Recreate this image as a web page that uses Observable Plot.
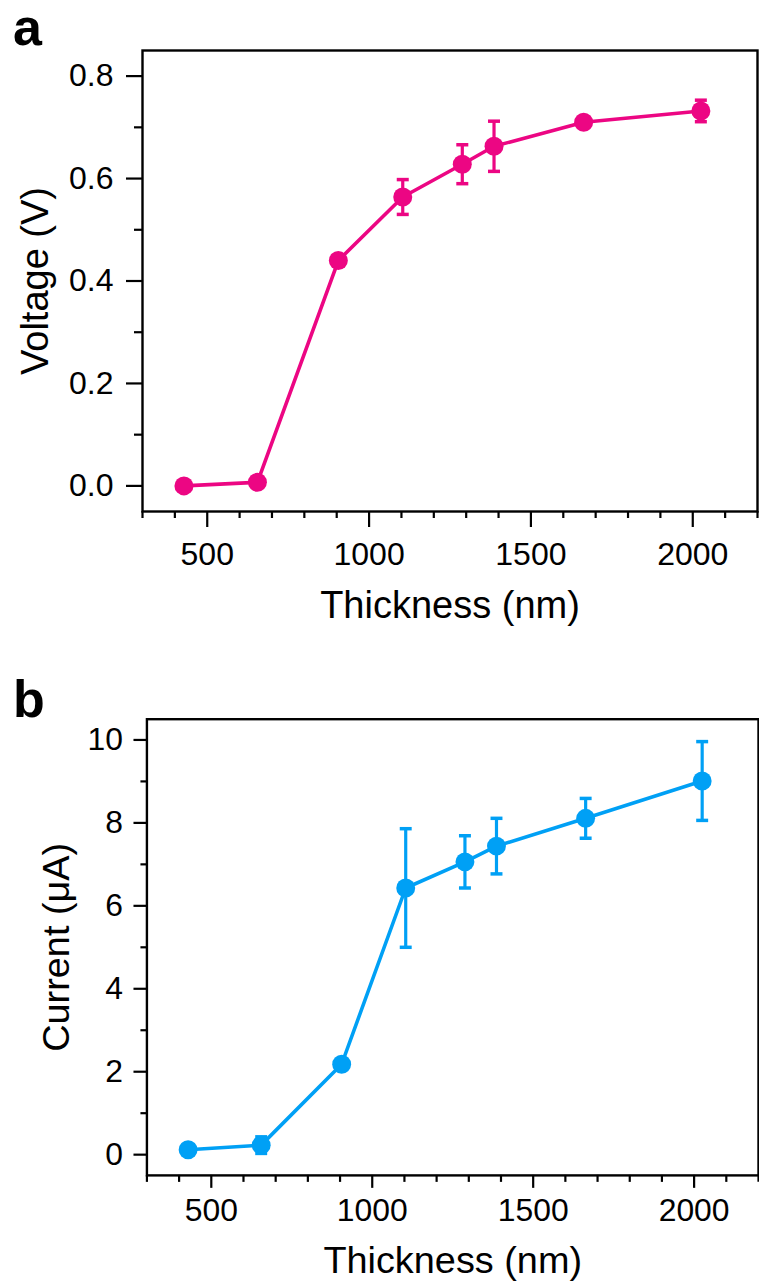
<!DOCTYPE html>
<html>
<head>
<meta charset="utf-8">
<script src="https://cdn.jsdelivr.net/npm/d3@7"></script>
<script src="https://cdn.jsdelivr.net/npm/@observablehq/plot@0.6"></script>
<style>
  html, body { margin: 0; padding: 0; background: #fff; }
  body { width: 759px; height: 1287px; position: relative; overflow: hidden;
         font-family: "Liberation Sans", Arial, sans-serif; }
  .panel { position: absolute; left: 0; z-index: 1; }
  .plabel { position: absolute; left: 13px; font-size: 52px; font-weight: bold; line-height: 1; z-index: 2; }
</style>
</head>
<body>
<div id="pa" class="panel" style="top:0px"></div>
<div id="pb" class="panel" style="top:645px"></div>
<div class="plabel" style="top:1px">a</div>
<div class="plabel" style="top:673px">b</div>
<script>
// ---- data ----
const thickness = [428, 655, 905, 1104, 1288, 1386, 1663, 2025];
const voltage = [0.000, 0.007, 0.440, 0.564, 0.628, 0.663, 0.710, 0.732];
const voltageErr = [0, 0, 0, 0.034, 0.038, 0.049, 0, 0.021];
const current = [0.12, 0.23, 2.18, 6.43, 7.06, 7.44, 8.11, 9.01];
const currentErr = [0, 0.2, 0, 1.43, 0.63, 0.67, 0.48, 0.95];

const xMajor = [500, 1000, 1500, 2000];
const xMinor = [300, 400, 600, 700, 800, 900, 1100, 1200, 1300, 1400, 1600, 1700, 1800, 1900, 2100, 2200];
const vMajor = [0.0, 0.2, 0.4, 0.6, 0.8];
const vMinor = [0.1, 0.3, 0.5, 0.7];
const cMajor = [0, 2, 4, 6, 8, 10];
const cMinor = [1, 3, 5, 7, 9];

const pink = "#ec0683";
const blue = "#00a0f5";

const capSymbol = {
  draw(context, size) {
    const r = Math.sqrt(size / Math.PI);
    context.moveTo(-r, 0);
    context.lineTo(r, 0);
  }
};

function panel({values, errs, color, yDomain, yMajor, yMinor, yFmt, yTitle,
                width, height, ml, mr, mt, mb, xt, xp, yt, yp, yMinorSize, xMinorSize,
                xTitleDy, yTitleDx}) {
  const data = thickness.map((t, i) => ({t, v: values[i], e: errs[i]}));
  const withErr = data.filter(d => d.e > 0);
  return Plot.plot({
    width, height,
    marginLeft: ml, marginRight: mr, marginTop: mt, marginBottom: mb,
    style: {fontFamily: '"Liberation Sans", Arial, sans-serif', fontSize: "32px", background: "transparent", overflow: "visible"},
    x: {domain: [300, 2200]},
    y: {domain: yDomain},
    marks: [
      Plot.axisX(xMajor, {tickSize: xt, tickPadding: xp, tickFormat: d => String(d), label: null, strokeWidth: 2.2, fontSize: 32}),
      Plot.axisX(xMinor, {tickSize: xMinorSize, tickFormat: () => "", label: null, strokeWidth: 2.2}),
      Plot.axisY(yMajor, {tickSize: yt, tickPadding: yp, tickFormat: yFmt, label: null, strokeWidth: 2.2, fontSize: 32}),
      Plot.axisY(yMinor, {tickSize: yMinorSize, tickFormat: () => "", label: null, strokeWidth: 2.2}),
      Plot.frame({stroke: "black", strokeWidth: 2.4}),
      Plot.ruleX(withErr, {x: "t", y1: d => d.v - d.e, y2: d => d.v + d.e, stroke: color, strokeWidth: 3.2}),
      Plot.dot(withErr, {x: "t", y: d => d.v - d.e, symbol: capSymbol, r: 6, stroke: color, strokeWidth: 3.5, fill: "none"}),
      Plot.dot(withErr, {x: "t", y: d => d.v + d.e, symbol: capSymbol, r: 6, stroke: color, strokeWidth: 3.5, fill: "none"}),
      Plot.line(data, {x: "t", y: "v", stroke: color, strokeWidth: 3.6}),
      Plot.dot(data, {x: "t", y: "v", r: 9.5, fill: color, stroke: "none"}),
      Plot.text(["Thickness (nm)"], {frameAnchor: "bottom", text: d => d, dy: xTitleDy, lineAnchor: "bottom", textAnchor: "middle", fontSize: 38}),
      Plot.text([yTitle], {frameAnchor: "left", text: d => d, dx: yTitleDx, rotate: -90, lineAnchor: "bottom", textAnchor: "middle", fontSize: 38})
    ]
  });
}

document.getElementById("pa").appendChild(panel({
  values: voltage, errs: voltageErr, color: pink,
  yDomain: [-0.05, 0.85], yMajor: vMajor, yMinor: vMinor, yFmt: d3.format(".1f"),
  yTitle: "Voltage (V)",
  width: 759, height: 640, ml: 142, mr: 2, mt: 50, mb: 129,
  xt: 16, xp: 15, yt: 16, yp: 13, yMinorSize: 8, xMinorSize: 7,
  xTitleDy: 106, yTitleDx: -95
}));

document.getElementById("pb").appendChild(panel({
  values: current, errs: currentErr, color: blue,
  yDomain: [-0.5, 10.5], yMajor: cMajor, yMinor: cMinor, yFmt: d => String(d),
  yTitle: "Current (μA)",
  width: 762, height: 642, ml: 147, mr: 1, mt: 74, mb: 110,
  xt: 13, xp: 10, yt: 13, yp: 11, yMinorSize: 6, xMinorSize: 7,
  xTitleDy: 98, yTitleDx: -78
}));
</script>
</body>
</html>
